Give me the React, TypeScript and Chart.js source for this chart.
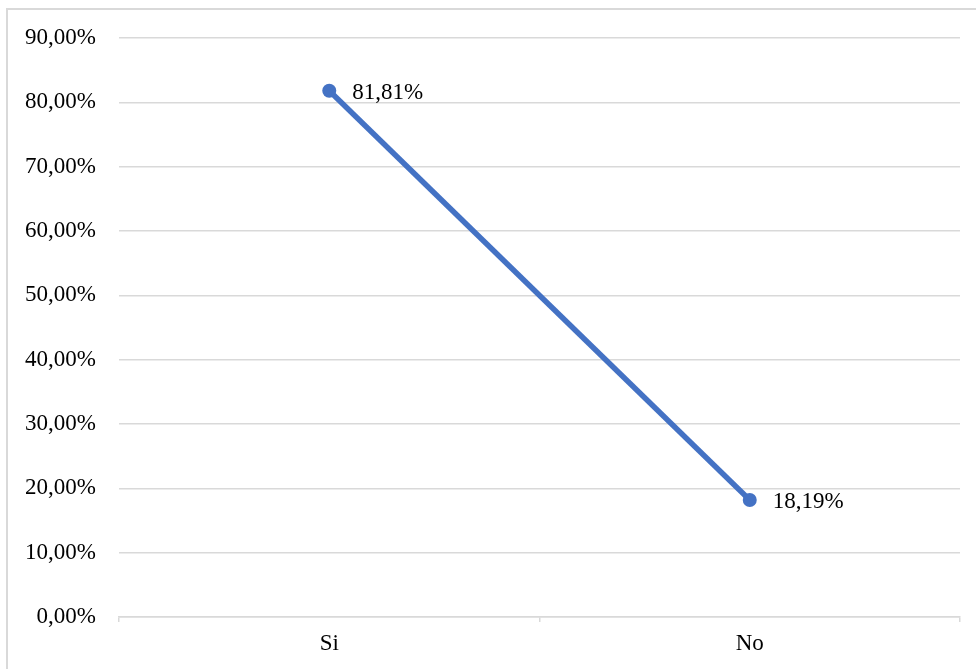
import React, { useEffect, useRef } from "react";
import { Chart, registerables } from "chart.js";

Chart.register(...registerables);

const categories = ["Si", "No"];
const values = [81.81, 18.19];
const valueLabels = ["81,81%", "18,19%"];
const yTicks = [0, 10, 20, 30, 40, 50, 60, 70, 80, 90];

const fmtPct = (v: number) => v.toFixed(2).replace(".", ",") + "%";

const FONT = "'Liberation Serif', 'Times New Roman', serif";
const GRID = "#d9d9d9";
const BLUE = "#4472C4";

const valueLabelPlugin = {
  id: "valueLabels",
  afterDatasetsDraw(chart: any) {
    const ctx = chart.ctx;
    const meta = chart.getDatasetMeta(0);
    ctx.save();
    ctx.font = `23px ${FONT}`;
    ctx.fillStyle = "#000";
    ctx.textAlign = "left";
    ctx.textBaseline = "middle";
    meta.data.forEach((pt: any, i: number) => {
      ctx.fillText(valueLabels[i], pt.x + 23, pt.y + 2);
    });
    ctx.restore();
  },
};

export default function App() {
  const ref = useRef<HTMLCanvasElement | null>(null);

  useEffect(() => {
    if (!ref.current) return;
    const chart = new Chart(ref.current, {
      type: "line",
      data: {
        labels: categories,
        datasets: [
          {
            data: values,
            borderColor: BLUE,
            backgroundColor: BLUE,
            borderWidth: 5.5,
            pointRadius: 7,
            pointBorderWidth: 0,
            pointBackgroundColor: BLUE,
            tension: 0,
          },
        ],
      },
      options: {
        animation: false,
        responsive: false,
        maintainAspectRatio: false,
        layout: { padding: { top: 38, right: 16, bottom: 0, left: 0 } },
        plugins: {
          legend: { display: false },
          tooltip: { enabled: false },
        },
        scales: {
          x: {
            offset: true,
            afterFit: (s: any) => {
              s.height = 52;
            },
            grid: {
              offset: true,
              drawOnChartArea: false,
              drawTicks: true,
              tickLength: 5,
              color: GRID,
              lineWidth: 1.5,
            },
            border: { display: true, color: GRID, width: 1.5 },
            ticks: {
              color: "#000",
              font: { family: FONT, size: 23 },
              padding: 8,
            },
          },
          y: {
            min: 0,
            max: 90,
            afterFit: (s: any) => {
              s.width = 119;
            },
            afterBuildTicks: (s: any) => {
              s.ticks = yTicks.map((v) => ({ value: v }));
            },
            grid: { color: GRID, lineWidth: 1.5, drawTicks: false },
            border: { display: false },
            ticks: {
              color: "#000",
              font: { family: FONT, size: 23 },
              padding: 23,
              callback: (v: any) => fmtPct(Number(v)),
            },
          },
        },
      },
      plugins: [valueLabelPlugin],
    });
    return () => chart.destroy();
  }, []);

  return (
    <div
      style={{
        position: "fixed",
        left: 0,
        top: 0,
        width: 976,
        height: 669,
        background: "#fff",
        overflow: "hidden",
      }}
    >
      <div
        style={{
          position: "absolute",
          left: 6,
          top: 8,
          width: 1000,
          height: 700,
          borderTop: `2px solid ${GRID}`,
          borderLeft: `2px solid ${GRID}`,
          boxSizing: "border-box",
        }}
      />
      <canvas
        ref={ref}
        width={976}
        height={669}
        style={{ position: "absolute", left: 0, top: 0, display: "block" }}
      />
    </div>
  );
}
